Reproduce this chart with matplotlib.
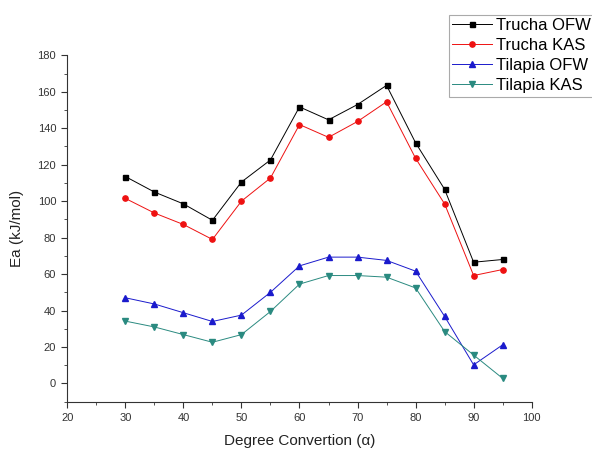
import matplotlib.pyplot as plt
import numpy as np

plt.rcParams['font.family'] = ['Liberation Sans', 'DejaVu Sans']

conv = [30, 35, 40, 45, 50, 55, 60, 65, 70, 75, 80, 85, 90, 95]
trucha_ofw = [113.5, 105, 98.5, 89.5, 110.5, 122.6, 151.7, 144.6, 153, 163.5, 132, 106.5, 66.5, 68]
trucha_kas = [101.5, 93.5, 87.2, 79, 100, 112.7, 142, 135, 143.7, 154.5, 123.5, 98.5, 59.2, 62.5]
tilapia_ofw = [47, 43.6, 38.8, 34, 37.5, 50, 64.5, 69.3, 69.3, 67.5, 61.6, 36.8, 10.2, 21.2]
tilapia_kas = [34.2, 31, 26.8, 22.6, 26.8, 39.5, 54.5, 59.2, 59.2, 58.3, 52.4, 28.5, 15.6, 2.8]

fig = plt.figure(figsize=(5.92, 4.54), dpi=100)
ax = fig.add_axes([0.1137, 0.1152, 0.7844, 0.7630])

ax.plot(conv, trucha_ofw, color='k', marker='s', ms=3.6, lw=0.7, label='Trucha OFW')
ax.plot(conv, trucha_kas, color='#ee1111', marker='o', ms=3.8, lw=0.7, label='Trucha KAS')
ax.plot(conv, tilapia_ofw, color='#1a1acc', marker='^', ms=4.2, lw=0.7, label='Tilapia OFW')
ax.plot(conv, tilapia_kas, color='#2a8a80', marker='v', ms=4.2, lw=0.7, label='Tilapia KAS')

ax.set_xlim(20, 100)
ax.set_ylim(-10, 180)
ax.set_xticks(np.arange(20, 101, 10))
ax.set_xticks(np.arange(20, 101, 5), minor=True)
ax.set_yticks(np.arange(0, 181, 20))
ax.set_yticks(np.arange(-10, 181, 10), minor=True)
ax.spines['top'].set_visible(False)
ax.spines['right'].set_visible(False)
ax.spines['left'].set_color('#333333')
ax.spines['bottom'].set_color('#333333')
ax.tick_params(which='major', length=4, width=0.8, labelsize=8, colors='#333333', pad=4)
ax.tick_params(which='minor', length=2.5, width=0.6, colors='#333333')
ax.set_xlabel('Degree Convertion (\u03b1)', fontsize=11, color='#222222', labelpad=8)
ax.set_ylabel('Ea (kJ/mol)', fontsize=11, color='#222222', labelpad=10)

leg = fig.legend(loc='upper left', bbox_to_anchor=(0.758, 0.967), fontsize=12,
                 fancybox=False, edgecolor='#aaaaaa', framealpha=1,
                 handlelength=2.4, borderpad=0.2, labelspacing=0.3,
                 handletextpad=0.25, borderaxespad=0.0)
leg.get_frame().set_linewidth(0.8)

fig.savefig('out.png', dpi=100)
